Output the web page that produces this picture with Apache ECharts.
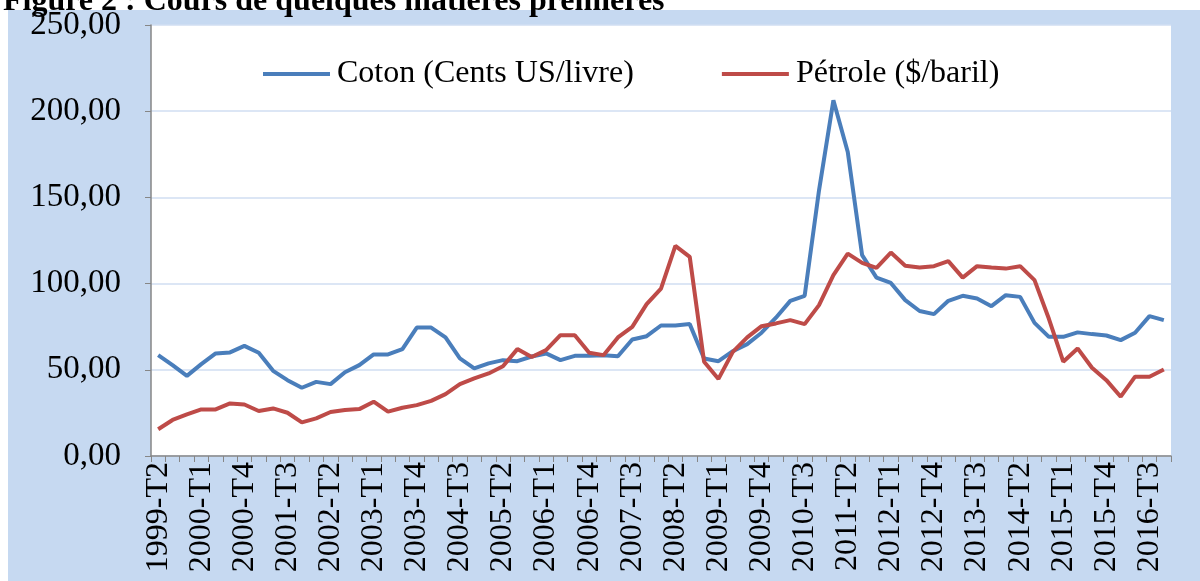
<!DOCTYPE html>
<html>
<head>
<meta charset="utf-8">
<script src="https://cdn.jsdelivr.net/npm/echarts@6/dist/echarts.min.js"></script>
<style>
    html, body { margin: 0; padding: 0; background: #fff; }
    #chart { width: 1200px; height: 581px; }
</style>
</head>
<body>
<div id="chart"></div>
<script>
// trimestres, 1999-T2 -> 2016-T4
var quarters = [
    '1999-T2', '1999-T3', '1999-T4',
    '2000-T1', '2000-T2', '2000-T3', '2000-T4',
    '2001-T1', '2001-T2', '2001-T3', '2001-T4',
    '2002-T1', '2002-T2', '2002-T3', '2002-T4',
    '2003-T1', '2003-T2', '2003-T3', '2003-T4',
    '2004-T1', '2004-T2', '2004-T3', '2004-T4',
    '2005-T1', '2005-T2', '2005-T3', '2005-T4',
    '2006-T1', '2006-T2', '2006-T3', '2006-T4',
    '2007-T1', '2007-T2', '2007-T3', '2007-T4',
    '2008-T1', '2008-T2', '2008-T3', '2008-T4',
    '2009-T1', '2009-T2', '2009-T3', '2009-T4',
    '2010-T1', '2010-T2', '2010-T3', '2010-T4',
    '2011-T1', '2011-T2', '2011-T3', '2011-T4',
    '2012-T1', '2012-T2', '2012-T3', '2012-T4',
    '2013-T1', '2013-T2', '2013-T3', '2013-T4',
    '2014-T1', '2014-T2', '2014-T3', '2014-T4',
    '2015-T1', '2015-T2', '2015-T3', '2015-T4',
    '2016-T1', '2016-T2', '2016-T3', '2016-T4'
];

// Coton (Cents US/livre)
var coton = [
    58.5, 52.7, 46.5, 53.3, 59.5, 60.1, 63.9, 59.9, 49.4, 44.0,
    39.6, 43.0, 41.7, 48.6, 52.7, 58.9, 58.9, 62.0, 74.5, 74.5,
    68.8, 56.6, 50.8, 53.7, 55.6, 55.0, 57.7, 59.5, 55.6, 58.1,
    58.1, 58.5, 57.9, 67.6, 69.5, 75.7, 75.7, 76.5, 56.6, 55.0,
    60.8, 64.9, 71.5, 80.2, 90.0, 92.9, 154.1, 206.3, 176.3, 116.5,
    103.5, 100.4, 90.4, 84.1, 82.3, 90.0, 92.9, 91.4, 86.9, 93.3,
    92.3, 77.2, 69.1, 69.1, 71.7, 70.7, 69.9, 67.2, 71.5, 81.1,
    78.8
];

// Pétrole ($/baril)
var petrole = [
    15.5, 20.9, 24.1, 27.0, 27.0, 30.5, 29.9, 26.1, 27.6, 25.1,
    19.5, 21.8, 25.5, 26.7, 27.2, 31.5, 25.7, 28.0, 29.5, 32.0,
    35.9, 41.7, 45.0, 47.9, 52.1, 62.0, 57.4, 61.4, 70.1, 70.1,
    59.9, 58.5, 68.8, 74.9, 88.1, 97.1, 121.9, 115.5, 54.7, 44.7,
    60.4, 68.8, 75.3, 76.9, 78.8, 76.5, 87.5, 104.9, 117.4, 112.0,
    109.1, 118.0, 110.4, 109.3, 110.1, 113.0, 103.5, 110.1, 109.3, 108.7,
    110.1, 102.0, 79.6, 54.7, 62.4, 51.2, 44.0, 34.4, 46.0, 46.0,
    50.2
];

var serif = '"Liberation Serif", "Times New Roman", serif';

var myChart = echarts.init(document.getElementById('chart'));

myChart.setOption({
    animation: false,
    backgroundColor: '#fff',
    title: {
        text: 'Figure 2 : Cours de quelques matières premières',
        left: -2,
        top: -19,
        textStyle: {
            fontFamily: serif,
            fontSize: 32,
            fontWeight: 'bold',
            color: '#000'
        }
    },
    graphic: [
        {
            type: 'rect',
            z: -10,
            shape: {x: 8, y: 10, width: 1192, height: 571},
            style: {fill: '#c6d9f1'}
        }
    ],
    legend: {
        left: 258,
        top: 53,
        icon: 'rect',
        itemWidth: 67,
        itemHeight: 4,
        itemGap: 88,
        textStyle: {
            fontFamily: serif,
            fontSize: 32,
            color: '#000',
            padding: [0, 0, 0, 2]
        },
        data: ['Coton (Cents US/livre)', 'Pétrole ($/baril)']
    },
    grid: {
        left: 151,
        right: 29,
        top: 25,
        bottom: 125,
        show: true,
        backgroundColor: '#fff',
        borderWidth: 0
    },
    xAxis: {
        type: 'category',
        boundaryGap: true,
        data: quarters,
        axisLine: {lineStyle: {color: '#868686', width: 1.5}},
        axisTick: {
            show: true,
            interval: 0,
            length: 6,
            lineStyle: {color: '#868686'}
        },
        axisLabel: {
            interval: 2,
            rotate: 90,
            margin: 6,
            fontFamily: serif,
            fontSize: 32,
            color: '#000'
        },
        splitLine: {show: false}
    },
    yAxis: {
        type: 'value',
        min: 0,
        max: 250,
        interval: 50,
        axisLine: {show: true, lineStyle: {color: '#868686', width: 1.5}},
        axisTick: {show: true, length: 6, lineStyle: {color: '#868686'}},
        axisLabel: {
            margin: 30,
            fontFamily: serif,
            fontSize: 33,
            color: '#000',
            formatter: function (v) {
                return v.toFixed(2).replace('.', ',');
            }
        },
        splitLine: {lineStyle: {color: '#d0def2', width: 1.5}}
    },
    series: [
        {
            name: 'Coton (Cents US/livre)',
            type: 'line',
            symbol: 'none',
            data: coton,
            lineStyle: {width: 4, color: '#4a7ebb'},
            itemStyle: {color: '#4a7ebb'}
        },
        {
            name: 'Pétrole ($/baril)',
            type: 'line',
            symbol: 'none',
            data: petrole,
            lineStyle: {width: 4, color: '#be4b48'},
            itemStyle: {color: '#be4b48'}
        }
    ]
});
</script>
</body>
</html>
